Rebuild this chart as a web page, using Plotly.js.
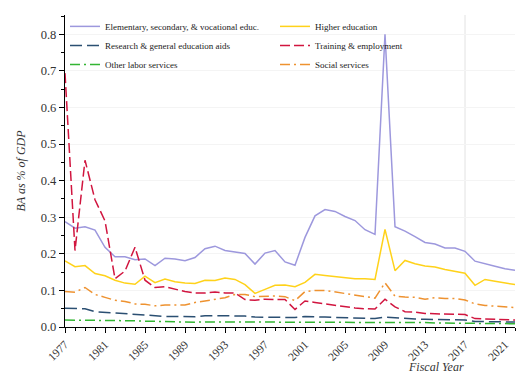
<!DOCTYPE html>
<html><head><meta charset="utf-8">
<script src="https://cdn.plot.ly/plotly-3.0.1.min.js"></script>
<style>html,body{margin:0;padding:0;background:#fff}</style>
</head><body><div id="chart" style="width:528px;height:384px"></div>
<script>
const years = [];
for (let y = 1977; y <= 2022; y++) years.push(y);

const elementary = [0.288,0.270,0.274,0.265,0.218,0.192,0.192,0.184,0.186,0.168,0.188,0.186,0.181,0.190,
 0.214,0.221,0.209,0.206,0.201,0.172,0.202,0.209,0.178,0.169,0.245,0.304,0.321,0.316,0.302,0.291,0.266,0.253,
 0.800,0.274,0.262,0.247,0.231,0.227,0.216,0.216,0.207,0.180,0.172,0.166,0.159,0.155];
const higher = [0.181,0.165,0.168,0.146,0.140,0.128,0.120,0.117,0.139,0.121,0.131,0.124,0.120,0.119,
 0.128,0.127,0.134,0.130,0.116,0.092,0.103,0.114,0.115,0.110,0.122,0.144,0.141,0.138,0.136,0.132,0.132,0.130,
 0.267,0.154,0.182,0.173,0.167,0.164,0.157,0.153,0.147,0.114,0.130,0.125,0.120,0.116];
const research = [0.051,0.050,0.050,0.042,0.040,0.037,0.036,0.033,0.032,0.029,0.029,0.029,0.028,0.028,
 0.031,0.032,0.031,0.030,0.030,0.027,0.027,0.026,0.027,0.026,0.029,0.027,0.027,0.026,0.025,0.024,0.023,0.023,
 0.027,0.025,0.024,0.022,0.021,0.021,0.020,0.020,0.019,0.015,0.014,0.014,0.014,0.014];
const training = [0.694,0.209,0.456,0.348,0.290,0.132,0.153,0.218,0.128,0.108,0.110,0.103,0.097,0.093,
 0.093,0.096,0.093,0.093,0.075,0.073,0.076,0.075,0.075,0.048,0.071,0.067,0.063,0.059,0.057,0.052,0.050,0.049,
 0.076,0.055,0.042,0.041,0.037,0.036,0.036,0.036,0.034,0.023,0.022,0.021,0.019,0.019];
const otherLabor = [0.019,0.019,0.019,0.019,0.018,0.018,0.017,0.017,0.016,0.015,0.015,0.014,0.014,0.013,
 0.014,0.014,0.014,0.014,0.014,0.012,0.012,0.012,0.012,0.012,0.014,0.014,0.014,0.014,0.013,0.012,0.012,0.012,
 0.014,0.014,0.013,0.012,0.012,0.011,0.011,0.011,0.010,0.010,0.010,0.010,0.009,0.009];
const social = [0.097,0.095,0.108,0.089,0.081,0.073,0.070,0.063,0.062,0.058,0.060,0.061,0.060,0.067,
 0.072,0.075,0.080,0.089,0.089,0.083,0.085,0.085,0.083,0.072,0.097,0.100,0.100,0.096,0.092,0.086,0.082,0.079,
 0.121,0.084,0.082,0.081,0.076,0.080,0.078,0.078,0.074,0.063,0.059,0.057,0.055,0.053];

const names = ["Elementary, secondary, & vocational educ.","Higher education","Research & general education aids",
 "Training & employment","Other labor services","Social services"];
const tickYears = [1977,1981,1985,1989,1993,1997,2001,2005,2009,2013,2017,2021];

const series = [
 {y: elementary, name: names[0], color: "#9d98dd", dash: "solid"},
 {y: higher, name: names[1], color: "#ffd21a", dash: "solid"},
 {y: research, name: names[2], color: "#2b4f72", dash: "12px,5px"},
 {y: training, name: names[3], color: "#d1153f", dash: "10px,4px"},
 {y: otherLabor, name: names[4], color: "#33b533", dash: "10px,4px,2px,4px"},
 {y: social, name: names[5], color: "#ee9230", dash: "10px,4px,2px,4px"}
];
const traces = series.map(s => ({
  x: years, y: s.y, name: s.name, type: "scatter", mode: "lines",
  line: {color: s.color, width: 1.5, dash: s.dash}
}));

const serif = "Liberation Serif, DejaVu Serif, serif";
const layout = {
  width: 528, height: 384,
  margin: {l: 65, r: 13, t: 13, b: 57},
  paper_bgcolor: "#fff", plot_bgcolor: "#fff",
  font: {family: serif, size: 12, color: "#333"},
  showlegend: true,
  legend: {orientation: "h", x: 0.0, y: 1.01, xanchor: "left", yanchor: "top",
    entrywidth: 165, entrywidthmode: "pixels", itemwidth: 30,
    font: {family: serif, size: 9, color: "#222"}, bgcolor: "rgba(0,0,0,0)"},
  xaxis: {range: [1977, 2022], tickvals: tickYears, ticktext: tickYears.map(String), tickangle: -45,
    ticks: "outside", ticklen: 5, tickcolor: "#000", showline: true, linecolor: "#000", linewidth: 1.2,
    showgrid: false, zeroline: false,
    minor: {dtick: 1, tick0: 1977, ticks: "outside", ticklen: 3, tickcolor: "#000", showgrid: false},
    tickfont: {family: serif, size: 11.5, color: "#333"}},
  yaxis: {range: [0, 0.853], dtick: 0.1, tickformat: ".1f", ticks: "outside", ticklen: 5, tickcolor: "#000",
    showline: true, linecolor: "#000", linewidth: 1.2, showgrid: true, gridcolor: "#f4f4f4", zeroline: false,
    minor: {dtick: 0.05, ticks: "outside", ticklen: 3, tickcolor: "#000", showgrid: false},
    title: {text: "<i>BA as % of GDP</i>", font: {family: serif, size: 12, color: "#333"}, standoff: 12},
    tickfont: {family: serif, size: 12.5, color: "#333"}},
  shapes: [{type: "line", xref: "x", yref: "paper", x0: 2017, x1: 2017, y0: 0, y1: 1,
    line: {color: "#e2e2e2", width: 1}, layer: "below"}],
  annotations: [{text: "<i>Fiscal Year</i>", xref: "paper", yref: "paper", x: 0.89, y: -0.1,
    xanchor: "right", yanchor: "top", showarrow: false, font: {family: serif, size: 12, color: "#333"}}]
};
Plotly.newPlot("chart", traces, layout, {displayModeBar: false, staticPlot: true});
</script></body></html>
